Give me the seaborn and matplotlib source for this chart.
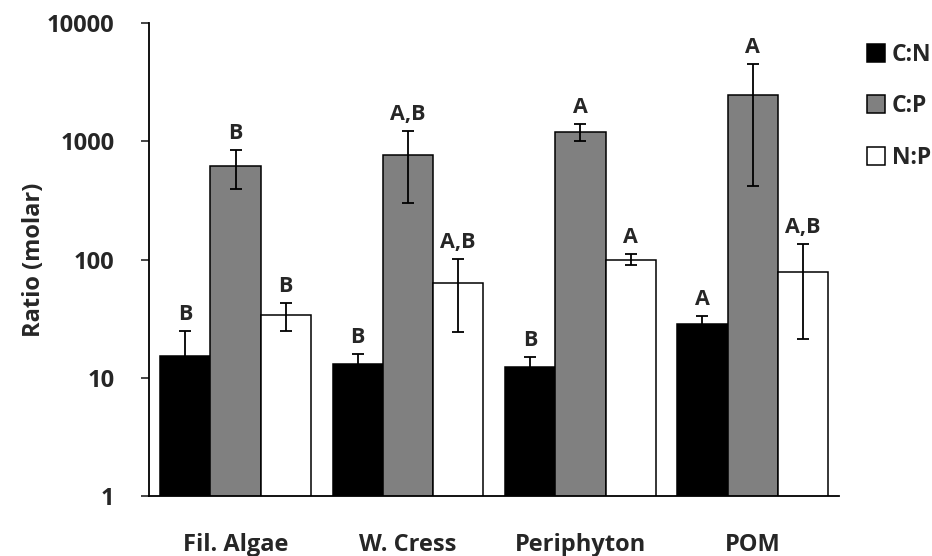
import matplotlib
matplotlib.use("Agg")
import matplotlib.pyplot as plt
import seaborn as sns
import pandas as pd
import numpy as np
from matplotlib.lines import Line2D

categories = ["Fil. Algae", "W. Cress", "Periphyton", "POM"]
ratios = ["C:N", "C:P", "N:P"]
cn_vals = [15.2, 13.1, 12.2, 28.3]
cp_vals = [619, 767, 1208, 2456]
np_vals = [33.7, 62.9, 100, 78.4]
cn_err = [9.6, 2.8, 2.7, 5.1]
cp_err = [220, 467, 190, 2040]
np_err = [9.0, 38.6, 11, 57]
cn_letters = ["B", "B", "B", "A"]
cp_letters = ["B", "A,B", "A", "A"]
np_letters = ["B", "A,B", "A", "A,B"]
colors = ["#000000", "#808080", "#ffffff"]

sns.set_theme(style="white")
plt.rcParams["font.family"] = ["Open Sans", "DejaVu Sans"]
plt.rcParams["font.weight"] = "bold"

rows = []
for r, vals in zip(ratios, [cn_vals, cp_vals, np_vals]):
    for c, v in zip(categories, vals):
        rows.append({"cat": c, "ratio": r, "val": v})
df = pd.DataFrame(rows)

fig = plt.figure(figsize=(9.32, 5.56), dpi=100)
ax = fig.add_axes([0.1602, 0.1085, 0.9002 - 0.1602, 0.958 - 0.1085])
ax.set_yscale("log")
sns.barplot(data=df, x="cat", y="val", hue="ratio", order=categories, hue_order=ratios,
            palette=colors, edgecolor="black", linewidth=1.1, width=0.875,
            errorbar=None, legend=False, ax=ax, saturation=1)

errs = [cn_err, cp_err, np_err]
vals_all = [cn_vals, cp_vals, np_vals]
letters = [cn_letters, cp_letters, np_letters]
patches = ax.patches
for i, r in enumerate(ratios):
    for j in range(len(categories)):
        p = patches[i * len(categories) + j]
        xc = p.get_x() + p.get_width() / 2
        v = vals_all[i][j]
        e = errs[i][j]
        ax.errorbar(xc, v, yerr=e, fmt="none", ecolor="black", elinewidth=1.3,
                    capsize=4.5, capthick=1.3, zorder=5)
        ax.annotate(letters[i][j], (xc, v + e), xytext=(0, 8), textcoords="offset points",
                    ha="center", va="baseline", fontsize=15.5, fontweight="bold")

ax.set_ylim(1, 10000)
ax.set_xlim(-0.5, 3.5)
ax.set_yticks([1, 10, 100, 1000, 10000])
ax.set_yticklabels(["1", "10", "100", "1000", "10000"])
ax.minorticks_off()
ax.tick_params(axis="y", which="major", direction="out", length=6, width=1.2, left=True,
               labelsize=17, pad=19)
ax.tick_params(axis="x", length=0, labelsize=17, pad=27)
for lab in ax.get_xticklabels() + ax.get_yticklabels():
    lab.set_fontweight("bold")
ax.set_xlabel("")
ax.set_ylabel("Ratio (molar)", fontsize=17, fontweight="bold", labelpad=1)
for s in ["top", "right"]:
    ax.spines[s].set_visible(False)
for s in ["left", "bottom"]:
    ax.spines[s].set_color("black")
    ax.spines[s].set_linewidth(1.3)

handles = [Line2D([0], [0], marker="s", linestyle="none", markersize=12.5,
                  markerfacecolor=c, markeredgecolor="black", markeredgewidth=1.1)
           for c in colors]
fig.legend(handles, ratios, loc="upper left", bbox_to_anchor=(0.919, 0.940),
           frameon=False, labelspacing=1.2, handletextpad=0.25,
           handlelength=0.9, borderaxespad=0, prop={"weight": "bold", "size": 16.5})

fig.savefig("out.png", dpi=100)
